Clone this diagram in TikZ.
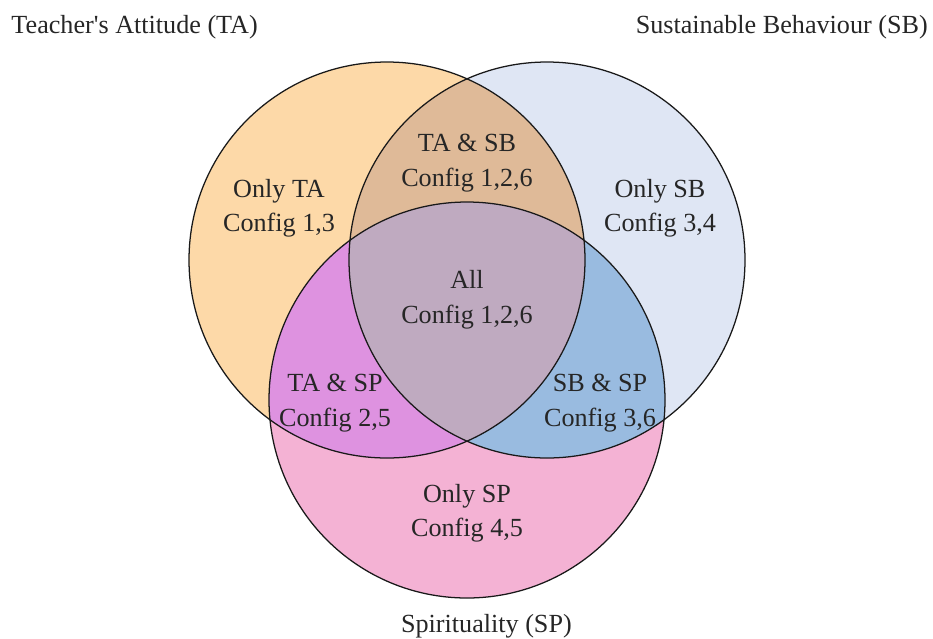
\documentclass[tikz,border=0pt]{standalone}
\usepackage{fontspec}
\setmainfont{Liberation Serif}
\usepackage{tikz}
\usetikzlibrary{positioning}

\definecolor{taonly}{RGB}{253,217,168}
\definecolor{sbonly}{RGB}{223,230,244}
\definecolor{sponly}{RGB}{244,178,212}
\definecolor{tasbcol}{RGB}{223,186,152}
\definecolor{taspcol}{RGB}{222,146,224}
\definecolor{sbspcol}{RGB}{153,187,224}
\definecolor{allcol}{RGB}{191,170,192}

\begin{document}
\begin{tikzpicture}[
	% --- Styles ---
	setline/.style={draw=black!90, line width=0.9pt},
	regiontext/.style={
		align=center, inner sep=0pt, text=black!85,
		font=\fontsize{18.6}{24.5}\selectfont
	},
	settitle/.style={
		inner sep=0pt, text=black!85,
		font=\fontsize{18.6}{22}\selectfont
	}
	]
	
	% --- Frame ---
	\useasboundingbox (0,0) rectangle (23.325,-15.95);
	
	% --- Set centres ---
	\coordinate (ta) at (9.675,-6.5);
	\coordinate (sb) at (13.675,-6.5);
	\coordinate (sp) at (11.675,-10);
	
	% --- 1. Single sets ---
	\fill [taonly] (ta) circle (4.95);
	\fill [sbonly] (sb) circle (4.95);
	\fill [sponly] (sp) circle (4.95);
	
	% --- 2. Pairwise overlaps ---
	\begin{scope}
		\clip (ta) circle (4.95);
		\fill [tasbcol] (sb) circle (4.95);
		\fill [taspcol] (sp) circle (4.95);
	\end{scope}
	\begin{scope}
		\clip (sb) circle (4.95);
		\fill [sbspcol] (sp) circle (4.95);
	\end{scope}
	
	% --- 3. Centre (all three) ---
	\begin{scope}
		\clip (ta) circle (4.95);
		\clip (sb) circle (4.95);
		\fill [allcol] (sp) circle (4.95);
	\end{scope}
	
	% --- 4. Outlines ---
	\draw [setline] (ta) circle (4.95);
	\draw [setline] (sb) circle (4.95);
	\draw [setline] (sp) circle (4.95);
	
	% --- 5. Region labels ---
	\node [regiontext] (onlyta) at (6.975,-5.21) {Only TA\\Config 1,3};
	\node [regiontext] (tasb) at (11.675,-4.075) {TA \& SB\\Config 1,2,6};
	\node [regiontext] (onlysb) at (16.5,-5.21) {Only SB\\Config 3,4};
	\node [regiontext] (allsets) at (11.675,-7.49) {All\\Config 1,2,6};
	\node [regiontext] (tasp) at (8.375,-10.075) {TA \& SP\\Config 2,5};
	\node [regiontext] (sbsp) at (15.0,-10.075) {SB \& SP\\Config 3,6};
	\node [regiontext] (onlysp) at (11.675,-12.825) {Only SP\\Config 4,5};
	
	% --- 6. Set names ---
	\node [settitle, anchor=base west] (taname) at (0.28,-0.825) {Teacher\textquotesingle s Attitude (TA)};
	\node [settitle, anchor=base east] (sbname) at (23.2,-0.825) {Sustainable Behaviour (SB)};
	\node [settitle, anchor=base] (spname) at (12.16,-15.8) {Spirituality (SP)};
	
\end{tikzpicture}
\end{document}
